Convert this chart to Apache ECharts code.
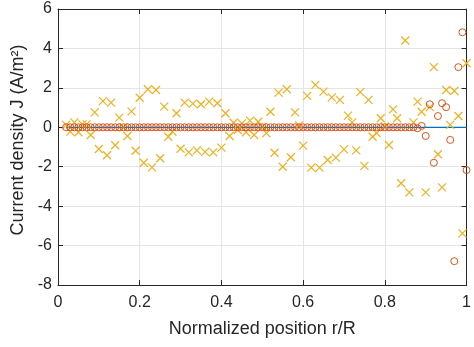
<!DOCTYPE html>
<html><head><meta charset="utf-8">
<script src="https://cdn.jsdelivr.net/npm/echarts@6/dist/echarts.min.js"></script>
<style>html,body{margin:0;padding:0;background:#fff}#c{width:474px;height:347px}</style>
</head><body><div id="c"></div>
<script>
// positions r/R (0.02 .. 1.00 step 0.01)
const positions = [0.02,0.03,0.04,0.05,0.06,0.07,0.08,0.09,0.10,0.11,0.12,0.13,0.14,0.15,0.16,0.17,0.18,0.19,0.20,
0.21,0.22,0.23,0.24,0.25,0.26,0.27,0.28,0.29,0.30,0.31,0.32,0.33,0.34,0.35,0.36,0.37,0.38,0.39,0.40,
0.41,0.42,0.43,0.44,0.45,0.46,0.47,0.48,0.49,0.50,0.51,0.52,0.53,0.54,0.55,0.56,0.57,0.58,0.59,0.60,
0.61,0.62,0.63,0.64,0.65,0.66,0.67,0.68,0.69,0.70,0.71,0.72,0.73,0.74,0.75,0.76,0.77,0.78,0.79,0.80,
0.81,0.82,0.83,0.84,0.85,0.86,0.87,0.88,0.89,0.90,0.91,0.92,0.93,0.94,0.95,0.96,0.97,0.98,0.99,1.00];

// orange circles
const circleValues = [0,0,0,0,0,0,0,0,0,0,0,0,0,0,0,0,0,0,0,
0,0,0,0,0,0,0,0,0,0,0,0,0,0,0,0,0,0,0,0,
0,0,0,0,0,0,0,0,0,0,0,0,0,0,0,0,0,0,0,0,
0,0,0,0,0,0,0,0,0,0,0,0,0,0,0,0,0,0,0,0,
0,0,0,0,0,0,0,-0.05,0.07,-0.44,1.17,-1.80,0.57,1.22,1.02,-0.64,-6.79,3.05,4.82,-2.17];

// yellow crosses
const crossValues = [0.12,-0.22,0.25,-0.25,0.15,0.15,-0.39,0.76,-1.10,1.33,-1.42,1.25,-0.91,0.49,0.0,-0.44,0.81,-1.19,1.50,
-1.80,1.93,-2.03,1.89,-1.57,1.05,-0.48,-0.22,0.71,-1.09,1.25,-1.27,1.20,-1.17,1.17,-1.25,1.30,-1.27,1.22,-1.03,
0.71,-0.44,0.23,-0.14,0.20,-0.25,0.34,-0.39,0.28,0.03,-0.30,0.79,-1.29,1.76,-2.00,1.93,-1.52,0.76,0.10,-0.93,
1.59,-2.05,2.15,-2.05,1.81,-1.66,1.52,-1.54,1.39,-1.12,0.59,0.25,-1.17,1.78,-1.96,1.39,-0.48,-0.30,0.46,0.05,
-0.90,0.91,0.46,-2.84,4.40,-3.30,0.25,1.30,0.79,-3.30,1.02,3.05,-1.37,-3.05,1.89,0.12,1.84,0.57,-5.38,3.25];

// reference line
const refX = [0.02, 1.00];
const refY = [0, 0];

const zip = (xs, ys) => xs.map((x, i) => [x, ys[i]]);
const axisColor = '#262626';
const labelColor = '#262626';
const font = 'Liberation Sans, Arial, Helvetica, sans-serif';

const chart = echarts.init(document.getElementById('c'), null, {renderer: 'canvas'});
const baseX = {
  type: 'value', min: 0, max: 1, interval: 0.2,
  axisLine: {show: true, onZero: false, lineStyle: {color: axisColor, width: 1}},
  axisTick: {show: true, inside: true, length: 5, lineStyle: {color: axisColor}},
};
const baseY = {
  type: 'value', min: -8, max: 6, interval: 2,
  axisLine: {show: true, onZero: false, lineStyle: {color: axisColor, width: 1}},
  axisTick: {show: true, inside: true, length: 5, lineStyle: {color: axisColor}},
};
chart.setOption({
  animation: false,
  grid: {left: 58, right: 7, top: 9, bottom: 62, containLabel: false},
  xAxis: [
    Object.assign({}, baseX, {
      position: 'bottom',
      name: 'Normalized position r/R', nameLocation: 'middle', nameGap: 35,
      nameTextStyle: {color: labelColor, fontSize: 18, fontFamily: font},
      axisLabel: {color: labelColor, fontSize: 16, fontFamily: font, margin: 10,
        formatter: v => String(+v.toFixed(1))},
      splitLine: {show: true, lineStyle: {color: '#e5e5e5', width: 1}}
    }),
    Object.assign({}, baseX, {position: 'top', axisLabel: {show: false}, splitLine: {show: false}})
  ],
  yAxis: [
    Object.assign({}, baseY, {
      position: 'left',
      name: 'Current density J (A/m²)', nameLocation: 'middle', nameGap: 27, nameRotate: 90,
      nameTextStyle: {color: labelColor, fontSize: 18, fontFamily: font, padding: [0, 0, 0, 14]},
      axisLabel: {color: labelColor, fontSize: 16, fontFamily: font, margin: 6},
      splitLine: {show: true, lineStyle: {color: '#e5e5e5', width: 1}}
    }),
    Object.assign({}, baseY, {position: 'right', axisLabel: {show: false}, splitLine: {show: false}})
  ],
  series: [
    {
      type: 'line', data: zip(refX, refY), showSymbol: false, symbol: 'none',
      lineStyle: {color: '#0072BD', width: 1.2}, z: 1
    },
    {
      type: 'scatter', data: zip(positions, crossValues),
      symbol: 'path://M0,0L10,10M10,0L0,10', symbolSize: 8,
      itemStyle: {color: 'none', borderColor: '#EDB120', borderWidth: 1.2, opacity: 1}, z: 2
    },
    {
      type: 'scatter', data: zip(positions, circleValues),
      symbol: 'circle', symbolSize: 7,
      itemStyle: {color: 'none', borderColor: '#D95319', borderWidth: 1, opacity: 1}, z: 3
    }
  ]
});
</script></body></html>
